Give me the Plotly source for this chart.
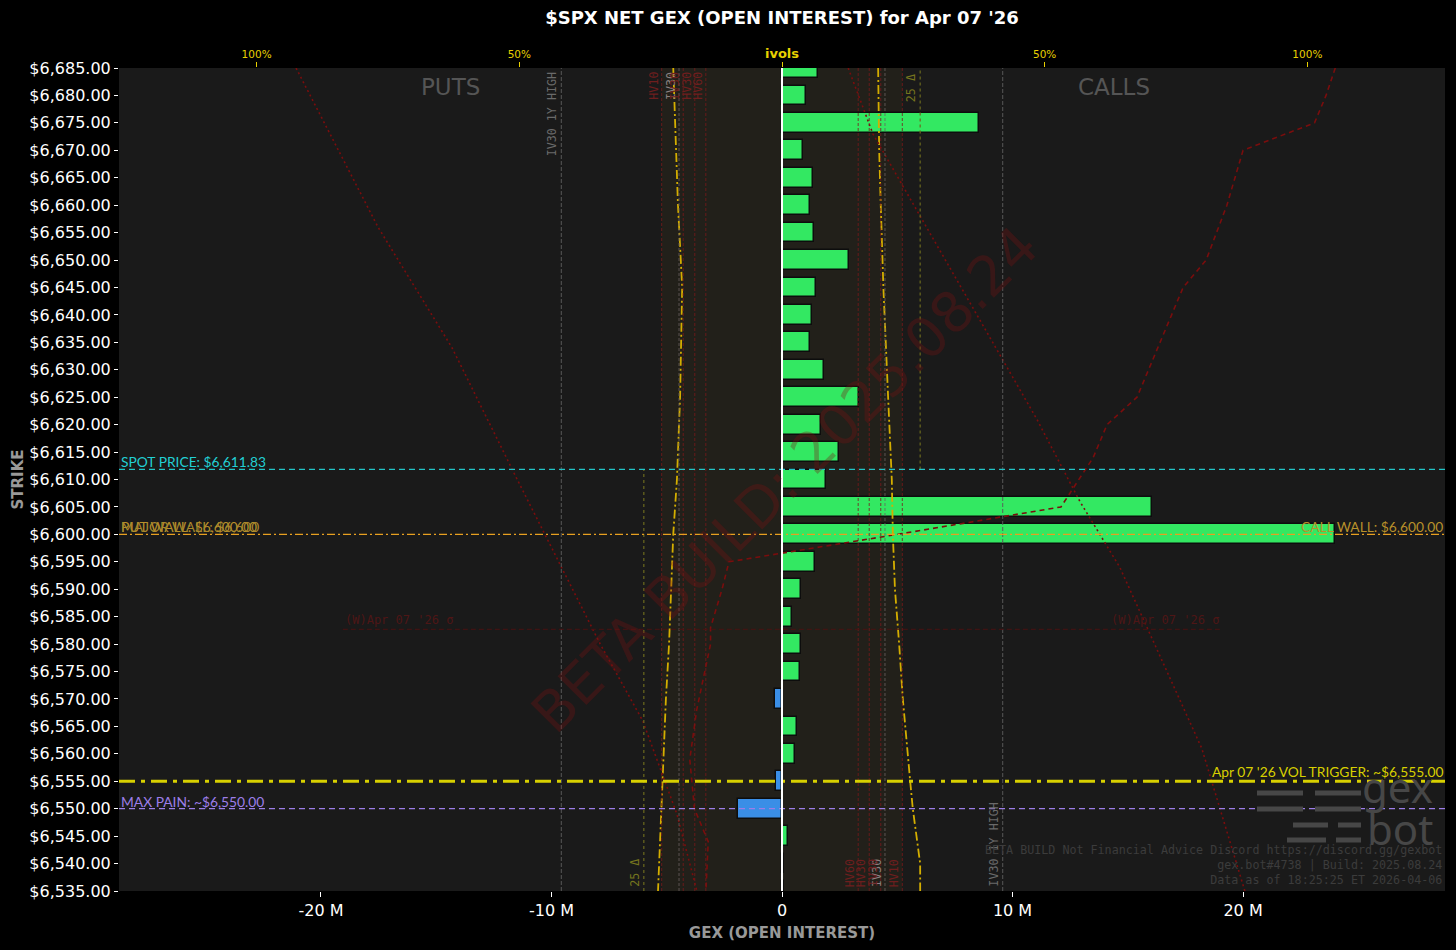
import plotly.graph_objects as go

# strikes and net gex (in millions)
strikes = list(range(6535, 6690, 5))
net_gex = [0.09, 0.09, 0.26, -1.91, -0.26, 0.56, 0.65, -0.30, 0.78, 0.82,
           0.43, 0.82, 1.43, 24.0, 16.05, 1.91, 2.47, 1.69, 3.34, 1.82,
           1.21, 1.30, 1.48, 2.91, 1.39, 1.21, 1.34, 0.91, 8.55, 1.04, 1.56]

# implied vols per strike (ivols axis, %)
iv_strikes = [6685, 6670, 6660, 6645, 6625, 6610, 6600, 6590, 6580, 6570, 6555, 6550, 6540, 6535]
put_iv = [20.7, 20.2, 19.8, 19.0, 19.4, 20.0, 20.7, 21.1, 21.5, 22.1, 22.8, 23.0, 23.4, 23.6]
call_iv = [18.3, 18.5, 18.8, 19.3, 20.2, 20.9, 21.1, 21.5, 22.3, 23.0, 24.4, 24.9, 26.3, 26.3]

# red dotted curves (ivols axis)
put_dot_strikes = [6685, 6656, 6634, 6610, 6580, 6566, 6549, 6535]
put_dot_vals = [-92.5, -76.9, -62.8, -50.4, -34.6, -26.5, -20.0, -16.2]
call_dot_strikes = [6685, 6673, 6621, 6606, 6594, 6561, 6535]
call_dot_vals = [12.6, 17.3, 48.5, 56.7, 64.3, 79.9, 88.1]

# cumulative gex curve (millions)
cum_strikes = [6685, 6680, 6675, 6670, 6660, 6650, 6645, 6638, 6625, 6620, 6614,
               6605, 6600, 6595, 6590, 6583, 6580, 6568, 6559, 6550, 6544, 6535]
cum_gex = [24.0, 23.6, 23.1, 20.0, 19.3, 18.4, 17.4, 16.7, 15.4, 14.1, 13.5,
           12.1, 5.0, -2.3, -2.6, -3.1, -3.1, -3.7, -4.0, -3.8, -3.2, -3.3]

# vol reference lines (ivols %)
vol_names = ["HV10", "IV30", "IV30", "HV30", "HV60"]
vol_vals = [22.9, 19.6, 18.8, 16.6, 14.5]
vol_colors = ["#7a1a1a", "#6a6060", "#7a1a1a", "#7a1a1a", "#7a1a1a"]
iv30_high = 42.0
delta25 = 26.3
sigma_w = 83.6
sigma_strike = 6582.7

spot = 6611.83
put_wall = 6600
call_wall = 6600
vol_trigger = 6555
max_pain = 6550

mono = "DejaVu Sans Mono"
label_font = "Lato"

fig = go.Figure()

bar_colors = ["#33e862" if v >= 0 else "#3a8ee6" for v in net_gex]
fig.add_trace(go.Bar(
    x=net_gex, y=strikes, orientation="h", width=3.6,
    marker=dict(color=bar_colors, line=dict(color="#0d0d0d", width=1.5)),
    hoverinfo="x+y", showlegend=False))

fig.add_trace(go.Scatter(x=cum_gex, y=cum_strikes, mode="lines",
                         line=dict(color="#7a0d0d", width=1.6, dash="5px,4px"),
                         showlegend=False, hoverinfo="skip"))

for vals, ks in [([-v for v in put_iv], iv_strikes), (call_iv, iv_strikes)]:
    fig.add_trace(go.Scatter(x=vals, y=ks, xaxis="x2", mode="lines",
                             line=dict(color="#d4ae00", width=1.8, dash="9px,3px,2px,3px"),
                             showlegend=False, hoverinfo="skip"))

for vals, ks in [(put_dot_vals, put_dot_strikes), (call_dot_vals, call_dot_strikes)]:
    fig.add_trace(go.Scatter(x=vals, y=ks, xaxis="x2", mode="lines",
                             line=dict(color="#7a0d0d", width=1.6, dash="2px,3px"),
                             showlegend=False, hoverinfo="skip"))

shapes = []
# central tint between HV10 lines
shapes.append(dict(type="rect", xref="x2", yref="paper", x0=-vol_vals[0], x1=vol_vals[0],
                   y0=0, y1=1, fillcolor="rgba(70,60,25,0.18)", line_width=0, layer="below"))
# vol lines both sides
for v, c in zip(vol_vals, vol_colors):
    for s in (-1, 1):
        shapes.append(dict(type="line", xref="x2", yref="paper", x0=s * v, x1=s * v, y0=0, y1=1,
                           line=dict(color=c, width=1, dash="3px,2px"), opacity=0.8, layer="above"))
for s in (-1, 1):
    shapes.append(dict(type="line", xref="x2", yref="paper", x0=s * iv30_high, x1=s * iv30_high,
                       y0=0, y1=1, line=dict(color="#5a5a5a", width=1.2, dash="4px,2px"),
                       layer="above", opacity=0.8))
# 25 delta lines
shapes.append(dict(type="line", xref="x2", yref="y", x0=delta25, x1=delta25, y0=spot, y1=6685,
                   line=dict(color="#6b6a1e", width=1.2, dash="dot")))
shapes.append(dict(type="line", xref="x2", yref="y", x0=-delta25, x1=-delta25, y0=6535, y1=spot,
                   line=dict(color="#6b6a1e", width=1.2, dash="dot")))
# weekly sigma line
shapes.append(dict(type="line", xref="x2", yref="y", x0=-sigma_w, x1=sigma_w, y0=sigma_strike,
                   y1=sigma_strike, line=dict(color="#4a1212", width=1, dash="5px,3px")))
# level lines
shapes.append(dict(type="line", xref="paper", yref="y", x0=0, x1=1, y0=spot, y1=spot,
                   line=dict(color="#22c4c8", width=1.2, dash="6px,4px"), layer="above"))
shapes.append(dict(type="line", xref="paper", yref="y", x0=0, x1=1, y0=put_wall, y1=put_wall,
                   line=dict(color="#e8a020", width=1.3, dash="8px,3px,2px,3px"), layer="above"))
shapes.append(dict(type="line", xref="paper", yref="y", x0=0, x1=1, y0=vol_trigger, y1=vol_trigger,
                   line=dict(color="#d8d000", width=3.2, dash="16px,6px,4px,6px"), layer="above"))
shapes.append(dict(type="line", xref="paper", yref="y", x0=0, x1=1, y0=max_pain, y1=max_pain,
                   line=dict(color="#9d7ee8", width=1.3, dash="6px,4px"), layer="above"))
# zero line
shapes.append(dict(type="line", xref="x", yref="paper", x0=0, x1=0, y0=0, y1=1,
                   line=dict(color="#ffffff", width=2), layer="above"))


# gexbot logo bars (window pixel positions converted to paper)
def px(xp, yp):
    return (xp - 119) / 1326, (891 - yp) / 823


for yrow, segs in [(793, [(1257, 1303), (1315, 1361)]), (809, [(1257, 1303), (1315, 1361)]),
                   (825, [(1293, 1328), (1338, 1361)]), (840, [(1287, 1326), (1336, 1361)])]:
    for a, b in segs:
        xa, ya = px(a, yrow)
        xb, _ = px(b, yrow)
        shapes.append(dict(type="line", xref="paper", yref="paper", x0=xa, x1=xb, y0=ya, y1=ya,
                           line=dict(color="#474747", width=5)))

ann = []
ann.append(dict(text="BETA BUILD: 2025.08.24", x=0.502, y=0.5, xref="paper", yref="paper",
                textangle=-45, showarrow=False, xanchor="center", yanchor="middle",
                font=dict(family="DejaVu Sans", size=56, color="rgba(120,20,20,0.32)")))
ann.append(dict(text="PUTS", x=0.25, y=0.977, xref="paper", yref="paper", showarrow=False,
                xanchor="center", yanchor="middle",
                font=dict(family="DejaVu Sans", size=23, color="#555555")))
ann.append(dict(text="CALLS", x=0.75, y=0.977, xref="paper", yref="paper", showarrow=False,
                xanchor="center", yanchor="middle",
                font=dict(family="DejaVu Sans", size=23, color="#555555")))
ann.append(dict(text="<b>STRIKE</b>", x=px(17, 0)[0], y=0.5, xref="paper", yref="paper",
                textangle=-90, showarrow=False, xanchor="center", yanchor="middle",
                font=dict(family="DejaVu Sans", size=15, color="#999999")))

# vol line labels: left at top, right at bottom
for v, c, n in zip(vol_vals, vol_colors, vol_names):
    tc = "#8a8080" if c == "#6a6060" else "#6e1e1e"
    ann.append(dict(text=n, x=-v, y=1, xref="x2", yref="paper", textangle=-90, showarrow=False,
                    xanchor="right", yanchor="top", xshift=1, yshift=-2,
                    font=dict(family=mono, size=11.7, color=tc)))
    ann.append(dict(text=n, x=v, y=0, xref="x2", yref="paper", textangle=-90, showarrow=False,
                    xanchor="right", yanchor="bottom", xshift=1, yshift=2,
                    font=dict(family=mono, size=11.7, color=tc)))
ann.append(dict(text="IV30 1Y HIGH", x=-iv30_high, y=1, xref="x2", yref="paper", textangle=-90,
                showarrow=False, xanchor="right", yanchor="top", yshift=-2,
                font=dict(family=mono, size=11.7, color="#6a6a6a")))
ann.append(dict(text="IV30 1Y HIGH", x=iv30_high, y=0, xref="x2", yref="paper", textangle=-90,
                showarrow=False, xanchor="right", yanchor="bottom", yshift=2,
                font=dict(family=mono, size=11.7, color="#6a6a6a")))
ann.append(dict(text="25 Δ", x=delta25, y=1, xref="x2", yref="paper", textangle=-90,
                showarrow=False, xanchor="right", yanchor="top", yshift=-4,
                font=dict(family=mono, size=11.7, color="#76751e")))
ann.append(dict(text="25 Δ", x=-delta25, y=0, xref="x2", yref="paper", textangle=-90,
                showarrow=False, xanchor="right", yanchor="bottom", yshift=2,
                font=dict(family=mono, size=11.7, color="#76751e")))
ann.append(dict(text="(W)Apr 07 '26 σ", x=-sigma_w, y=sigma_strike, xref="x2", yref="y",
                showarrow=False, xanchor="left", yanchor="bottom",
                font=dict(family=mono, size=12, color="#4e1616")))
ann.append(dict(text="(W)Apr 07 '26 σ", x=sigma_w, y=sigma_strike, xref="x2", yref="y",
                showarrow=False, xanchor="right", yanchor="bottom",
                font=dict(family=mono, size=12, color="#4e1616")))

# level labels
lvl = dict(family=label_font, size=13.8)
ann.append(dict(text="SPOT PRICE: $6,611.83", x=0, y=spot, xref="paper", yref="y", showarrow=False,
                xanchor="left", yanchor="bottom", yshift=-3, font=dict(lvl, color="#22d0d4")))
ann.append(dict(text="PUT WALL: $6,600.00", x=0, y=put_wall, xref="paper", yref="y", showarrow=False,
                xanchor="left", yanchor="bottom", yshift=-3, font=dict(lvl, color="#b8902a")))
ann.append(dict(text="MAJOR WALL: $6,600", x=0, y=put_wall, xref="paper", yref="y", showarrow=False,
                xanchor="left", yanchor="bottom", yshift=-3, font=dict(lvl, color="#a8882c")))
ann.append(dict(text="CALL WALL: $6,600.00", x=1, y=call_wall, xref="paper", yref="y",
                showarrow=False, xanchor="right", yanchor="bottom", yshift=-3,
                font=dict(lvl, color="#b8902a")))
ann.append(dict(text="Apr 07 '26 VOL TRIGGER: ~$6,555.00", x=1, y=vol_trigger, xref="paper", yref="y",
                showarrow=False, xanchor="right", yanchor="bottom", yshift=-1,
                font=dict(lvl, color="#d8d000")))
ann.append(dict(text="MAX PAIN: ~$6,550.00", x=0, y=max_pain, xref="paper", yref="y", showarrow=False,
                xanchor="left", yanchor="bottom", yshift=-3, font=dict(lvl, color="#9d7ee8")))

# logo text and footer
ann.append(dict(text="gex", x=px(1435, 0)[0], y=px(0, 786)[1], xref="paper", yref="paper",
                showarrow=False, xanchor="right", yanchor="middle",
                font=dict(family="Noto Sans", size=42, color="#474747")))
ann.append(dict(text="bot", x=px(1435, 0)[0], y=px(0, 828)[1], xref="paper", yref="paper",
                showarrow=False, xanchor="right", yanchor="middle",
                font=dict(family="Noto Sans", size=42, color="#474747")))
ann.append(dict(text="BETA BUILD Not Financial Advice Discord https://discord.gg/gexbot<br>"
                     "gex.bot#4738 | Build: 2025.08.24<br>Data as of 18:25:25 ET 2026-04-06",
                x=0.999, y=0.003, xref="paper", yref="paper", showarrow=False,
                xanchor="right", yanchor="bottom", align="right",
                font=dict(family=mono, size=11.7, color="#3c3c3c")))

fig.update_layout(
    width=1456, height=950,
    margin=dict(l=119, r=11, t=68, b=59),
    paper_bgcolor="#000000", plot_bgcolor="#1a1a1a",
    title=dict(text="<b>$SPX NET GEX (OPEN INTEREST) for Apr 07 '26</b>", x=782 / 1456, xanchor="center",
               y=1 - 18 / 950, yanchor="middle", font=dict(family="DejaVu Sans", size=18, color="#ffffff")),
    xaxis=dict(range=[-28.76, 28.76], tickvals=[-20, -10, 0, 10, 20],
               ticktext=["-20 M", "-10 M", "0", "10 M", "20 M"], showgrid=False, zeroline=False,
               ticks="outside", tickcolor="#ffffff", ticklen=5, automargin=False,
               tickfont=dict(family="DejaVu Sans", size=16, color="#ffffff"),
               title=dict(text="<b>GEX (OPEN INTEREST)</b>", standoff=8,
                          font=dict(family="DejaVu Sans", size=15, color="#999999"))),
    xaxis2=dict(overlaying="x", side="top", range=[-126.2, 126.2],
                tickvals=[-100, -50, 0, 50, 100], automargin=False,
                ticktext=["100%", "50%", "<b><span style='font-size:13px'>ivols</span></b>", "50%", "100%"],
                showgrid=False, zeroline=False, ticks="outside", tickcolor="#e8d000", ticklen=5,
                tickfont=dict(family="DejaVu Sans", size=10.5, color="#e8d000")),
    yaxis=dict(range=[6535, 6685], tickvals=strikes, automargin=False,
               ticktext=[f"${s:,.2f}" for s in strikes], showgrid=False, zeroline=False,
               ticks="outside", tickcolor="#ffffff", ticklen=4,
               tickfont=dict(family="DejaVu Sans", size=16, color="#ffffff")),
    shapes=shapes, annotations=ann, bargap=0,
)

page_js = ("document.body.style.margin='0';document.body.style.background='#000';"
           "document.body.style.overflow='hidden';")
fig.write_html("out.html", post_script=page_js, config={"displayModeBar": False})
